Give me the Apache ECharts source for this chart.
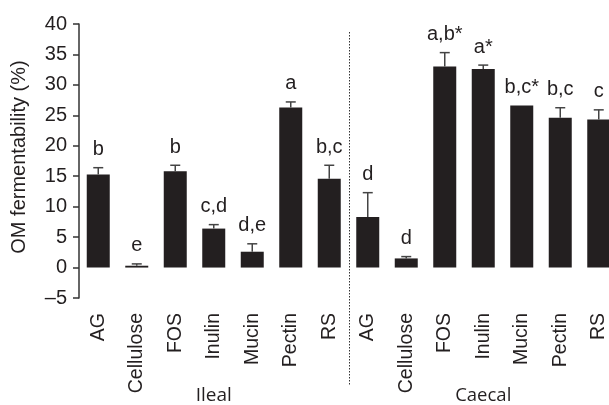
<!DOCTYPE html>
<html><head><meta charset="utf-8">
<script src="https://cdn.jsdelivr.net/npm/echarts@6/dist/echarts.min.js"></script>
<style>html,body{margin:0;padding:0;background:#fff}#c{width:609px;height:405px}</style>
</head><body><div id="c"></div>
<script>
const categories = ['AG','Cellulose','FOS','Inulin','Mucin','Pectin','RS','AG','Cellulose','FOS','Inulin','Mucin','Pectin','RS'];
const values = [15.3, 0.3, 15.8, 6.4, 2.6, 26.3, 14.6, 8.3, 1.5, 33.0, 32.6, 26.6, 24.6, 24.3];
const errors = [1.1, 0.3, 1.0, 0.65, 1.3, 0.9, 2.2, 4.0, 0.3, 2.3, 0.65, 0, 1.65, 1.6];
const letters = ['b','e','b','c,d','d,e','a','b,c','d','d','a,b*','a*','b,c*','b,c','c'];
const groups = ['Ileal','Caecal'];
const groupCenters = [3, 10];
const yMin = -5, yMax = 40, yStep = 5;
const yName = 'OM fermentability (%)';

const FONT = 'Liberation Sans';
const INK = '#231f20';
const chart = echarts.init(document.getElementById('c'), null, {renderer:'canvas'});
chart.setOption({
  animation: false,
  backgroundColor: '#fff',
  grid: {left: 79, right: -9, top: 24, bottom: 107, containLabel: false, outerBoundsMode: 'none'},
  xAxis: {
    type: 'category', data: categories,
    axisLine: {show: false, onZero: true},
    axisTick: {show: false},
    axisLabel: {rotate: 90, margin: 15, interval: 0, fontFamily: FONT, fontSize: 19.5, color: INK}
  },
  yAxis: {
    type: 'value', min: yMin, max: yMax, interval: yStep,
    splitLine: {show: false},
    axisLine: {show: true, lineStyle: {color: '#333', width: 1.5}},
    axisTick: {show: true, inside: false, length: 6, lineStyle: {color: '#333', width: 1.5}},
    axisLabel: {margin: 12, fontFamily: FONT, fontSize: 20, color: INK,
      formatter: v => v < 0 ? '\u2013' + Math.abs(v) : String(v)}
  },
  series: [
    {type: 'bar', data: values, barWidth: 23, itemStyle: {color: INK}, z: 2},
    {type: 'custom', z: 3,
     data: values.map((v, i) => [i, v, errors[i]]),
     renderItem: (params, api) => {
       const i = api.value(0), v = api.value(1), e = api.value(2);
       const base = api.coord([i, v]);
       const top = api.coord([i, v + e]);
       const ch = [];
       if (e > 0) {
         ch.push({type: 'line', shape: {x1: base[0], y1: base[1], x2: top[0], y2: top[1]}, style: {stroke: '#444', lineWidth: 1.5}});
         ch.push({type: 'line', shape: {x1: top[0]-5, y1: top[1], x2: top[0]+5, y2: top[1]}, style: {stroke: '#444', lineWidth: 1.5}});
       }
       ch.push({type: 'text', x: top[0], y: top[1] - 8,
         style: {text: letters[params.dataIndex], fontFamily: FONT, fontSize: 20, fill: INK, align: 'center', verticalAlign: 'bottom'}});
       return {type: 'group', children: ch};
     }}
  ]
});
const px = i => chart.convertToPixel({xAxisIndex: 0}, i);
const divX = Math.round((px(6) + px(7)) / 2) + 0.5;
chart.setOption({
  graphic: [
    {type: 'line', shape: {x1: divX, y1: 32, x2: divX, y2: 386}, style: {stroke: '#333', lineWidth: 1, lineDash: [1.5, 1.5]}},
    {type: 'text', x: 19, y: 157, rotation: Math.PI / 2, style: {text: yName, fontFamily: FONT, fontSize: 20, fill: INK, align: 'center', verticalAlign: 'middle'}},
    {type: 'text', x: px(groupCenters[0]), y: 396, style: {text: groups[0], fontFamily: 'Open Sans', fontSize: 19, fill: INK, align: 'center', verticalAlign: 'middle'}},
    {type: 'text', x: px(groupCenters[1]), y: 396, style: {text: groups[1], fontFamily: 'Open Sans', fontSize: 18.5, fill: INK, align: 'center', verticalAlign: 'middle'}}
  ]
});
</script>
</body></html>
